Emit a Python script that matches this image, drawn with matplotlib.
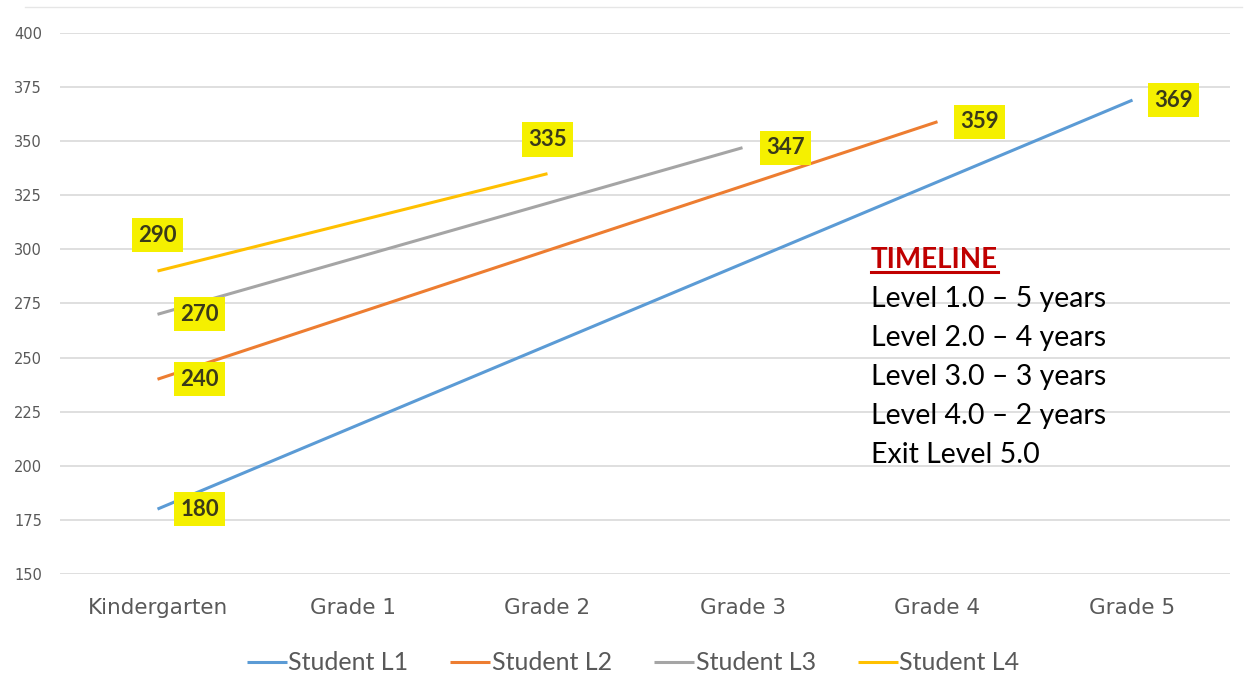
import matplotlib
matplotlib.use("Agg")
import matplotlib.pyplot as plt
from matplotlib.lines import Line2D

categories = ["Kindergarten", "Grade 1", "Grade 2", "Grade 3", "Grade 4", "Grade 5"]
series_names = ["Student L1", "Student L2", "Student L3", "Student L4"]
start_values = [180, 240, 270, 290]
end_values = [369, 359, 347, 335]
end_index = [5, 4, 3, 2]
colors = ["#5B9BD5", "#ED7D31", "#A5A5A5", "#FFC000"]
yticks = [150, 175, 200, 225, 250, 275, 300, 325, 350, 375, 400]
timeline_lines = ["Level 1.0 \u2013 5 years", "Level 2.0 \u2013 4 years",
                  "Level 3.0 \u2013 3 years", "Level 4.0 \u2013 2 years", "Exit Level 5.0"]

# label offsets (px) for start and end labels
start_offsets = [(42, 0), (42, 0), (42, 0), (0, 36)]
end_offsets = [(41, 0), (42, 0), (43, 0), (0, 34)]

plt.rcParams['font.family'] = ['Lato', 'DejaVu Sans']
fig = plt.figure(figsize=(12.48, 6.98), dpi=100)
ax = fig.add_axes([60/1248, 1-574/698, 1170/1248, 541/698])

px = 0.72
for i, name in enumerate(series_names):
    xs = [0, end_index[i]]
    ys = [start_values[i], end_values[i]]
    ax.plot(xs, ys, color=colors[i], lw=2.2, label=name, solid_capstyle='butt', zorder=3)
    for (x, y, off) in [(xs[0], ys[0], start_offsets[i]), (xs[1], ys[1], end_offsets[i])]:
        ax.annotate(str(y), (x, y), xytext=(off[0]*px, off[1]*px), textcoords='offset points',
                    ha='center', va='center', fontsize=16, fontweight='bold', color='#3a3a1a',
                    bbox=dict(boxstyle='square,pad=0.3', fc='#F5F000', ec='none'), zorder=5)

ax.set_xlim(-0.5, 5.5)
ax.set_ylim(150, 400)
ax.set_yticks(yticks)
ax.set_xticks(range(len(categories)))
ax.set_xticklabels(categories, family=['DejaVu Sans'])
for t in ax.get_yticklabels():
    t.set_family(['DejaVu Sans'])
ax.grid(axis='y', color='#D9D9D9', lw=1.2)
ax.set_axisbelow(True)
for s in ax.spines.values():
    s.set_visible(False)
ax.tick_params(axis='y', length=0, labelsize=10.5, labelcolor='#595959', pad=13)
ax.tick_params(axis='x', length=0, labelsize=15.5, labelcolor='#595959', pad=17)

leg = fig.legend(loc='center', bbox_to_anchor=(633/1248, 1-663/698), ncol=4, frameon=False,
                 fontsize=18, handlelength=1.6, handletextpad=0.05, columnspacing=1.7)
for t in leg.get_texts():
    t.set_color('#595959')

# top border line
fig.add_artist(Line2D([0.02, 0.995], [1-7/698, 1-7/698], color='#E6E6E6', lw=1))

# timeline text
tx = 871/1248
title = fig.text(tx, 1-260/698, "TIMELINE", color='#C00000', fontsize=20, fontweight='bold',
                 va='center', ha='left')
for k, line in enumerate(timeline_lines):
    fig.text(tx, 1-(299 + 39*k)/698, line, color='black', fontsize=20.5, va='center', ha='left')

fig.canvas.draw()
bb = title.get_window_extent(fig.canvas.get_renderer())
uy = (bb.y0 + 1) / fig.bbox.height
fig.add_artist(Line2D([bb.x0/fig.bbox.width, bb.x1/fig.bbox.width], [uy, uy], color='#C00000', lw=2.2))

fig.savefig("out.png", dpi=100)
